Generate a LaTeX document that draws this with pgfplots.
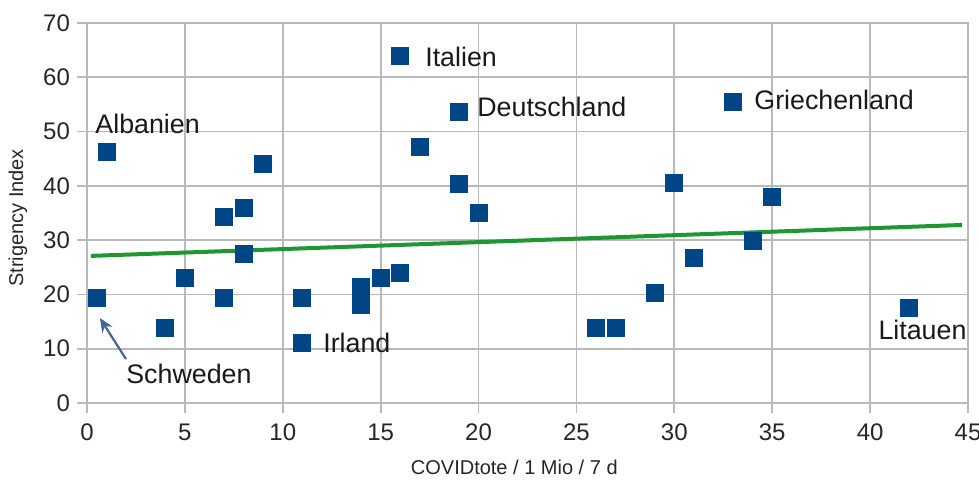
\documentclass[border=0pt]{standalone}
\usepackage{fontspec}
\setmainfont{Liberation Sans}
\usepackage{pgfplots}
\pgfplotsset{compat=1.18}
\usetikzlibrary{arrows.meta}
\definecolor{markblue}{RGB}{0,69,134}
\definecolor{trendgreen}{RGB}{30,150,50}
\definecolor{gridgray}{RGB}{185,185,185}
\definecolor{arrowblue}{RGB}{70,100,150}

\begin{document}
\begin{tikzpicture}
\begin{axis}[
  scale only axis, width=440.5pt, height=190pt,
  xmin=0, xmax=45, ymin=0, ymax=70,
  xtick={0,5,...,45}, ytick={0,10,...,70},
  grid=major,
  major grid style={gridgray, line width=0.9pt},
  axis line style={gridgray, line width=0.9pt},
  tick style={gridgray, line width=0.9pt},
  tick align=outside, major tick length=5pt,
  xtick pos=bottom, ytick pos=left,
  /pgf/number format/assume math mode=true,
  ticklabel style={font=\fontsize{12}{14}\selectfont, text=black!85},
  xticklabel style={yshift=-2pt},
  xlabel={COVIDtote / 1 Mio / 7 d},
  ylabel={Strigency Index},
  label style={font=\fontsize{10}{12}\selectfont, text=black!85},
  xlabel style={at={(axis description cs:0.485,0)}, anchor=center, yshift=-32pt},
  ylabel style={at={(axis description cs:0,0.487)}, anchor=center, yshift=34.5pt},
]
% trend line
\addplot[trendgreen, line width=2pt] coordinates {(0.2,27.1) (44.7,32.8)};
% data
\addplot[only marks, mark=square*, mark size=4.25pt,
  mark options={draw=markblue, fill=markblue, rounded corners=0.8pt}] coordinates {
(0.5,19.4) (1,46.2) (4,13.9) (5,23.1) (7,34.2) (7,19.4) (8,36.0) (8,27.4)
(9,44.0) (11,19.4) (11,11.1) (14,21.3) (14,18.0) (15,23.1) (16,24.0)
(16,63.9) (17,47.2) (19,53.6) (19,40.3) (20,35.1) (26,13.8) (27,13.8)
(29,20.2) (30,40.6) (31,26.8) (33,55.5) (34,29.9) (35,37.9) (42,17.6)
};
\begin{scope}[font=\fontsize{13.4}{15}\selectfont, text=black!90]
\node[anchor=west, inner sep=0pt] at (axis cs:0.41,51.4) {Albanien};
\node[anchor=west, inner sep=0pt] at (axis cs:1.99,5.3) {Schweden};
\node[anchor=west, inner sep=0pt] at (axis cs:12.05,11.05) {Irland};
\node[anchor=west, inner sep=0pt] at (axis cs:17.26,63.7) {Italien};
\node[anchor=west, inner sep=0pt] at (axis cs:19.92,54.5) {Deutschland};
\node[anchor=west, inner sep=0pt] at (axis cs:34.07,55.8) {Griechenland};
\node[anchor=east, inner sep=0pt] at (axis cs:44.94,13.4) {Litauen};
\end{scope}
\draw[arrowblue, line width=1.1pt, -{Stealth[length=7pt,width=6pt]}] (axis cs:1.99,8.1) -- (axis cs:0.66,15.65);
\end{axis}
\pgfresetboundingbox
\path[use as bounding box] (-43.5pt,-38pt) rectangle (446pt,201.5pt);
\end{tikzpicture}
\end{document}
